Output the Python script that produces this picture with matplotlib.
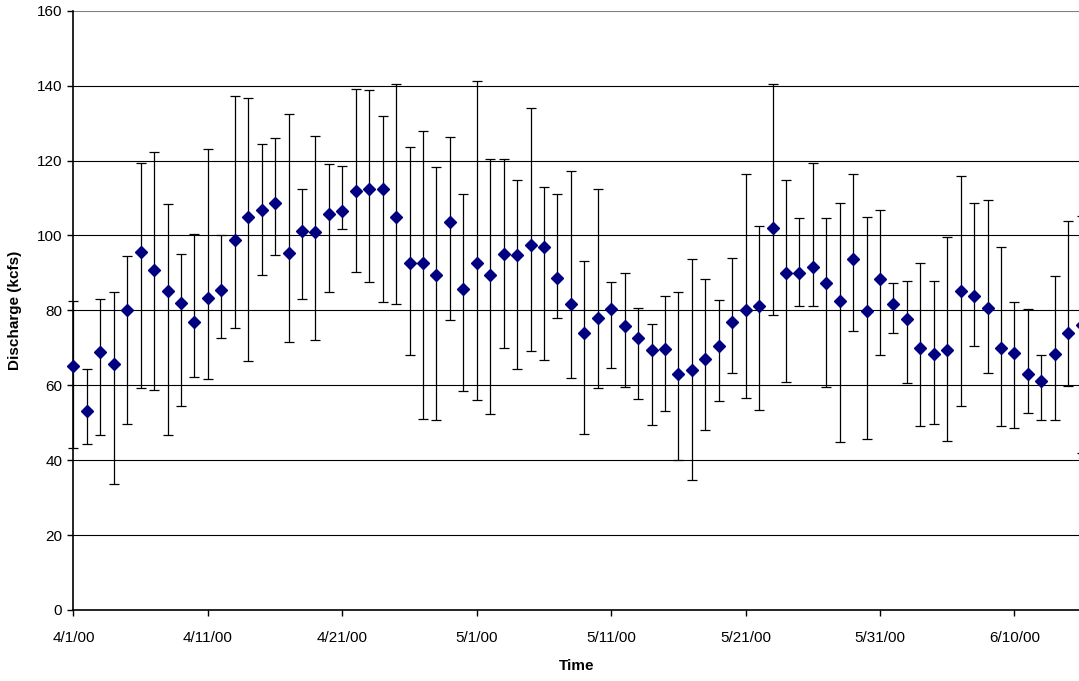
import matplotlib
matplotlib.use('Agg')
import matplotlib.pyplot as plt
import matplotlib.dates as mdates
from matplotlib.ticker import FuncFormatter
import numpy as np
import pandas as pd

plt.rcParams['font.family'] = ['Liberation Sans', 'DejaVu Sans']

# Daily discharge (kcfs) from 4/1/00, with the upper and lower ends of each bar
dates = pd.date_range('2000-04-01', periods=76, freq='D')
mean_q = [65.2, 53.1, 69.0, 65.8, 80.0, 95.5, 90.7, 85.2, 82.0, 77.0,
          83.2, 85.5, 98.7, 104.9, 106.8, 108.6, 95.4, 101.2, 100.8, 105.6,
          106.6, 111.8, 112.4, 112.4, 105.0, 92.6, 92.7, 89.5, 103.6, 85.6,
          92.7, 89.3, 95.1, 94.8, 97.4, 96.8, 88.5, 81.7, 73.9, 78.0,
          80.4, 75.9, 72.6, 69.4, 69.6, 63.0, 64.1, 67.0, 70.4, 76.9,
          80.0, 81.1, 101.9, 89.9, 89.9, 91.6, 87.2, 82.5, 93.7, 79.8,
          88.4, 81.7, 77.8, 70.0, 68.4, 69.5, 85.2, 83.7, 80.7, 69.9,
          68.5, 62.9, 61.1, 68.3, 73.9, 76.0]
upper_q = [82.4, 64.4, 83.1, 84.8, 94.5, 119.4, 122.4, 108.4, 95.0, 100.5,
           123.1, 100.0, 137.1, 136.7, 124.4, 126.1, 132.3, 112.4, 126.6, 119.0,
           118.6, 139.0, 138.8, 131.9, 140.4, 123.7, 127.8, 118.2, 126.4, 111.1,
           141.2, 120.3, 120.3, 114.9, 134.0, 112.8, 111.1, 117.3, 93.3, 112.5,
           87.6, 89.9, 80.7, 76.3, 83.8, 84.8, 93.6, 88.3, 82.8, 94.0,
           116.3, 102.5, 140.5, 114.8, 104.6, 119.4, 104.6, 108.7, 116.3, 105.0,
           106.7, 87.3, 87.8, 92.6, 87.8, 99.7, 115.9, 108.7, 109.4, 96.8,
           82.1, 80.4, 68.1, 89.2, 103.9, 105.2]
lower_q = [43.3, 44.3, 46.7, 33.6, 49.7, 59.3, 58.6, 46.7, 54.5, 62.3,
           61.7, 72.5, 75.3, 66.5, 89.3, 94.8, 71.6, 83.1, 72.2, 84.8,
           101.6, 90.3, 87.6, 82.1, 81.8, 68.1, 51.0, 50.7, 77.3, 58.5,
           56.1, 52.4, 69.9, 64.4, 69.2, 66.8, 78.0, 62.0, 46.9, 59.3,
           64.7, 59.6, 56.2, 49.3, 53.1, 40.0, 34.7, 48.0, 55.8, 63.3,
           56.5, 53.4, 78.7, 60.9, 81.1, 81.1, 59.6, 44.9, 74.6, 45.6,
           68.1, 74.0, 60.6, 49.0, 49.6, 45.2, 54.5, 70.5, 63.4, 49.0,
           48.6, 52.7, 50.8, 50.8, 59.7, 42.0]

mean_q = np.array(mean_q)
yerr = [mean_q - np.array(lower_q), np.array(upper_q) - mean_q]

fig = plt.figure(figsize=(10.79, 6.81), dpi=100)
ax = fig.add_axes([0.0681, 0.1043, 0.9319, 0.88])

for y in range(20, 160, 20):
    ax.axhline(y, color='black', lw=0.8, zorder=1)
ax.axhline(160, color='#808080', lw=0.8, zorder=1)

ax.errorbar(dates, mean_q, yerr=yerr, fmt='D', color='#000080', ms=6,
            ecolor='black', elinewidth=0.9, capsize=3.4, capthick=0.9,
            zorder=3, clip_on=False)

ax.set_ylim(0, 160)
ax.set_yticks(range(0, 161, 20))
ax.set_xlim(dates[0], dates[0] + pd.Timedelta(days=74.8))
ax.set_xticks(dates[::10])
ax.xaxis.set_major_formatter(FuncFormatter(
    lambda v, pos: (lambda d: f"{d.month}/{d.day}/{d:%y}")(mdates.num2date(v))))

for side in ['top', 'right']:
    ax.spines[side].set_visible(False)
ax.spines['left'].set_linewidth(1.2)
ax.spines['bottom'].set_linewidth(1.2)
ax.tick_params(axis='y', direction='out', length=4, width=1, labelsize=11, pad=4)
ax.tick_params(axis='x', direction='out', length=4, width=1, labelsize=11, pad=11)

ax.set_xlabel('Time', fontsize=11, fontweight='bold', labelpad=10)
ax.set_ylabel('Discharge (kcfs)', fontsize=11, fontweight='bold', labelpad=11)

fig.savefig('out.png', dpi=100)
